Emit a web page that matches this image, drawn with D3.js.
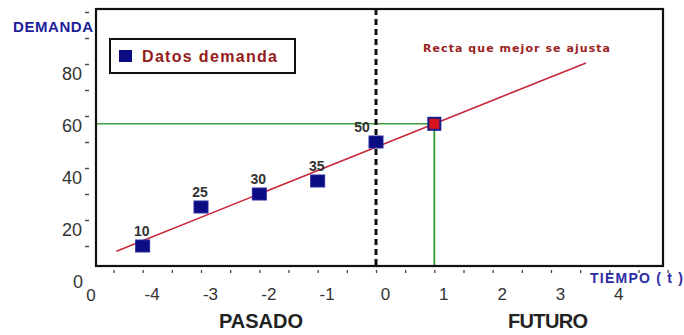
<!DOCTYPE html>
<html><head><meta charset="utf-8">
<script src="https://cdn.jsdelivr.net/npm/d3@7"></script>
<style>body{margin:0;background:#fff}svg{display:block}</style>
</head><body>
<script>
// ---- data ----
const periods = [-4, -3, -2, -1, 0];
const demand = [10, 25, 30, 35, 50];
const forecastPeriod = 1;
const forecastValue = 57;
const fitLine = [{t: -4.45, v: 8}, {t: 3.6, v: 80.4}];
const xTickLabels = [-4, -3, -2, -1, 0, 1, 2, 3, 4];
const xTickMarks = [-4.5,-4,-3.5,-3,-2.5,-2,-1.5,-1,-0.5,0,0.5,1,1.5,2,2.5,3,3.5,4,4.5,5];
const yTickLabels = [20, 40, 60, 80];
const yTickMarks = [10,20,30,40,50,60,70,80,90,100];

const W = 684, H = 335;
const svg = d3.select("body").append("svg").attr("width", W).attr("height", H);

const x = d3.scaleLinear().domain([-4.8, 4.92]).range([96, 663]);
const y = d3.scaleLinear().domain([0, 100]).range([272, 12]);
const frameTop = 9, frameBottom = 266;

const font = "'Liberation Sans', Arial, sans-serif";

// green guide lines
svg.append("line").attr("x1", x(-4.8)).attr("x2", x(forecastPeriod))
  .attr("y1", y(forecastValue)).attr("y2", y(forecastValue))
  .attr("stroke", "#3f9f3f").attr("stroke-width", 1.5);
svg.append("line").attr("x1", x(forecastPeriod)).attr("x2", x(forecastPeriod))
  .attr("y1", y(forecastValue)).attr("y2", frameBottom)
  .attr("stroke", "#2e9a2e").attr("stroke-width", 1.8);

// dashed present line
svg.append("line").attr("x1", x(0)).attr("x2", x(0))
  .attr("y1", frameTop).attr("y2", frameBottom)
  .attr("stroke", "#111").attr("stroke-width", 3).attr("stroke-dasharray", "6,4");

// fitted line
svg.append("line")
  .attr("x1", x(fitLine[0].t)).attr("y1", y(fitLine[0].v))
  .attr("x2", x(fitLine[1].t)).attr("y2", y(fitLine[1].v))
  .attr("stroke", "#c8283c").attr("stroke-width", 1.6);

// frame
svg.append("rect").attr("x", x(-4.8)).attr("y", frameTop)
  .attr("width", x(4.92) - x(-4.8)).attr("height", frameBottom - frameTop)
  .attr("fill", "none").attr("stroke", "#111").attr("stroke-width", 2.2);

// data points
const pts = periods.map((p, i) => ({t: p, v: demand[i]}));
svg.selectAll("rect.pt").data(pts).enter().append("rect")
  .attr("class", "pt")
  .attr("x", d => x(d.t) - 7).attr("y", d => y(d.v) - 6)
  .attr("width", 14).attr("height", 12)
  .attr("fill", "#0b0b82").attr("stroke", "#2a2aa0").attr("stroke-width", 1);
svg.selectAll("text.pl").data(pts).enter().append("text")
  .attr("class", "pl")
  .attr("x", d => x(d.t) + (d.t === 0 ? -14 : -1)).attr("y", d => y(d.v) - 10)
  .attr("text-anchor", "middle").attr("font-family", font).attr("font-weight", "bold")
  .attr("font-size", 14).attr("fill", "#333").text(d => d.v);

// forecast point
svg.append("rect").attr("x", x(forecastPeriod) - 6).attr("y", y(forecastValue) - 6)
  .attr("width", 12).attr("height", 12)
  .attr("fill", "#d4141e").attr("stroke", "#1a1a8a").attr("stroke-width", 2);

// x axis ticks
const xAxisMarks = d3.axisBottom(x).tickValues(xTickMarks).tickSize(3).tickFormat("");
const gx = svg.append("g").attr("transform", `translate(0,${frameBottom + 4})`).call(xAxisMarks);
gx.select(".domain").remove();
gx.selectAll("line").attr("stroke", "#444").attr("stroke-width", 1.3);

const xAxisLabels = d3.axisBottom(x).tickValues(xTickLabels).tickSize(0).tickFormat(d3.format("d"));
const gxl = svg.append("g").attr("transform", `translate(9,${frameBottom + 19})`).call(xAxisLabels);
gxl.select(".domain").remove();
gxl.selectAll("text").attr("font-family", font).attr("font-size", 17).attr("fill", "#333")
  .text(d => d < 0 ? "-" + Math.abs(d) : d);

// y axis ticks
const yAxisMarks = d3.axisLeft(y).tickValues(yTickMarks).tickSize(4).tickFormat("");
const gy = svg.append("g").attr("transform", `translate(${x(-4.8) - 7},0)`).call(yAxisMarks);
gy.select(".domain").remove();
gy.selectAll("line").attr("stroke", "#444").attr("stroke-width", 1.4);

const yAxisLabels = d3.axisLeft(y).tickValues(yTickLabels).tickSize(0).tickPadding(0);
const gyl = svg.append("g").attr("transform", `translate(82,10)`).call(yAxisLabels);
gyl.select(".domain").remove();
gyl.selectAll("text").attr("font-family", font).attr("font-size", 18).attr("fill", "#333");

// origin labels
svg.append("text").attr("x", 78).attr("y", 288).attr("text-anchor", "middle")
  .attr("font-family", font).attr("font-size", 18).attr("fill", "#333").text("0");
svg.append("text").attr("x", 91).attr("y", 301).attr("text-anchor", "middle")
  .attr("font-family", font).attr("font-size", 17).attr("fill", "#333").text("0");

// axis titles
svg.append("text").attr("x", 13).attr("y", 32)
  .attr("font-family", font).attr("font-weight", "bold").attr("font-size", 15)
  .attr("fill", "#1e1e9a").attr("textLength", 80).text("DEMANDA");
svg.append("text").attr("x", 590).attr("y", 283)
  .attr("font-family", font).attr("font-weight", "bold").attr("font-size", 14)
  .attr("fill", "#2b2ba6").attr("textLength", 93).text("TIEMPO ( t )");
svg.append("text").attr("x", 219).attr("y", 328)
  .attr("font-family", font).attr("font-weight", "bold").attr("font-size", 20)
  .attr("fill", "#222").attr("textLength", 84).text("PASADO");
svg.append("text").attr("x", 508).attr("y", 328)
  .attr("font-family", font).attr("font-weight", "bold").attr("font-size", 20)
  .attr("fill", "#222").attr("textLength", 80).text("FUTURO");

// legend
svg.append("rect").attr("x", 110).attr("y", 39).attr("width", 185).attr("height", 34)
  .attr("fill", "#fff").attr("stroke", "#111").attr("stroke-width", 2);
svg.append("rect").attr("x", 119).attr("y", 50).attr("width", 13).attr("height", 12)
  .attr("fill", "#0b0b82");
svg.append("text").attr("x", 142).attr("y", 62)
  .attr("font-family", font).attr("font-weight", "bold").attr("font-size", 16)
  .attr("fill", "#951b1b").attr("textLength", 135).text("Datos demanda");

// annotation
svg.append("text").attr("x", 423).attr("y", 52)
  .attr("font-family", "'DejaVu Sans', sans-serif").attr("font-weight", "bold").attr("font-size", 11)
  .attr("fill", "#9a2424").attr("textLength", 187).text("Recta que mejor se ajusta");
</script>
</body></html>
